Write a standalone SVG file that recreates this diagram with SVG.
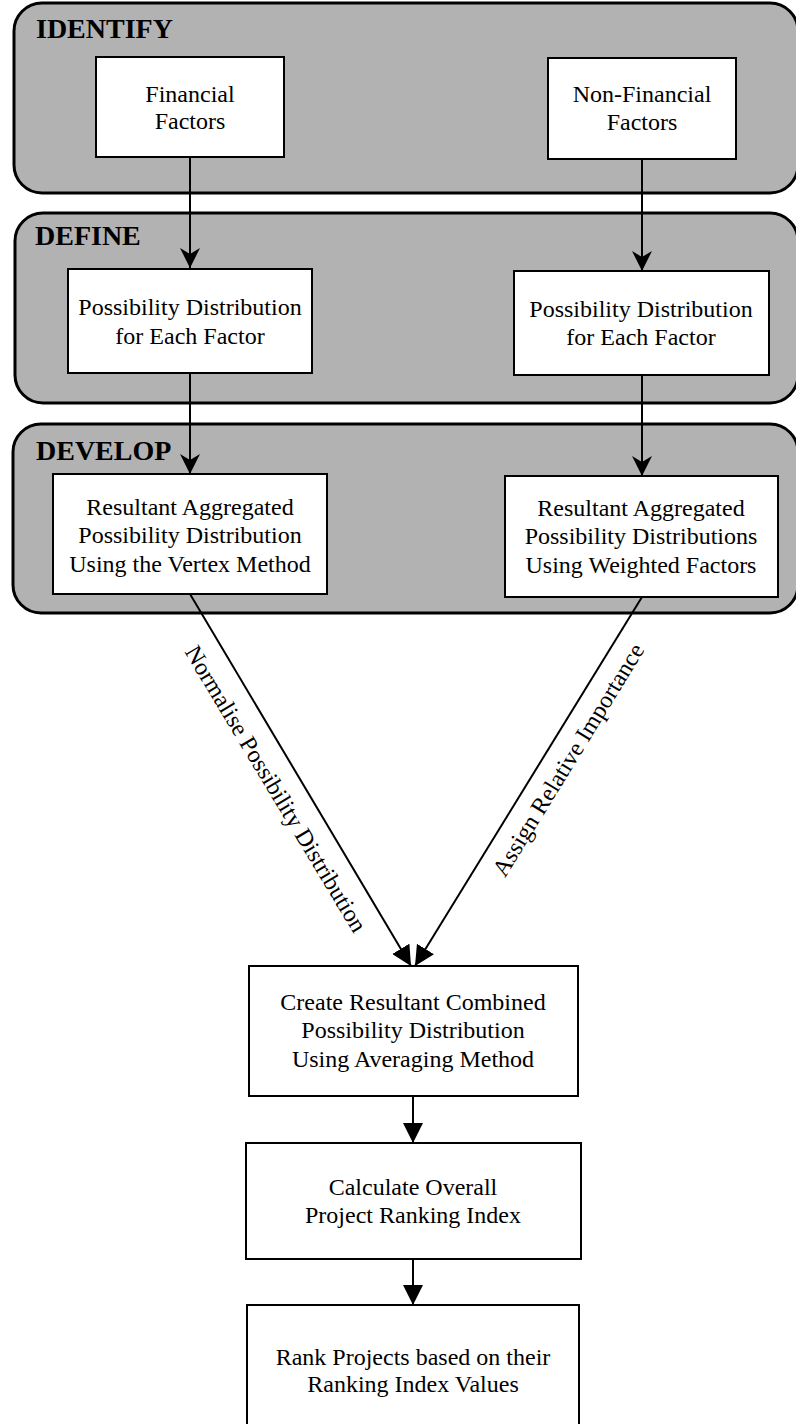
<svg xmlns="http://www.w3.org/2000/svg" width="796" height="1424" viewBox="0 0 796 1424">
<style>
.panel{fill:#b2b2b2;stroke:#000;stroke-width:3}
.box{fill:#fff;stroke:#000;stroke-width:2}
.ph{font-family:"Liberation Serif","Times New Roman",serif;font-weight:bold;font-size:28px;fill:#000}
.t{font-family:"Liberation Serif","Times New Roman",serif;font-size:24px;fill:#000;text-anchor:middle}
.c{stroke:#000;stroke-width:2;fill:none}
.n{marker-end:url(#notch)}
.a{marker-end:url(#tri)}
</style>
<defs>
<marker id="notch" markerUnits="userSpaceOnUse" viewBox="0 0 20 20" refX="20" refY="10" markerWidth="20" markerHeight="20" orient="auto">
<path d="M0,0 L20,10 L0,20 L6,10 Z" fill="#000"/>
</marker>
<marker id="tri" markerUnits="userSpaceOnUse" viewBox="0 0 20 20" refX="20" refY="10" markerWidth="20" markerHeight="20" orient="auto">
<path d="M0,0 L20,10 L0,20 Z" fill="#000"/>
</marker>
</defs>
<g id="panel-identify">
<rect class="panel" x="14" y="3" width="784" height="190" rx="28" ry="28"/>
<text class="ph" x="36" y="38">IDENTIFY</text>
</g>
<g id="panel-define">
<rect class="panel" x="15" y="213" width="783" height="190" rx="28" ry="28"/>
<text class="ph" x="35" y="245">DEFINE</text>
</g>
<g id="panel-develop">
<rect class="panel" x="13" y="424" width="785" height="189" rx="28" ry="28"/>
<text class="ph" x="36" y="460">DEVELOP</text>
</g>
<g id="connectors">
<line class="c n" x1="190" y1="157" x2="190" y2="268"/>
<line class="c n" x1="642" y1="159" x2="642" y2="271"/>
<line class="c n" x1="190" y1="373" x2="190" y2="474"/>
<line class="c n" x1="642" y1="375" x2="642" y2="476"/>
<line class="c a" x1="190" y1="594" x2="411" y2="966"/>
<line class="c a" x1="642" y1="597" x2="415" y2="966"/>
<line class="c a" x1="413" y1="1096" x2="413" y2="1143"/>
<line class="c a" x1="413" y1="1259" x2="413" y2="1305"/>
<text class="t" transform="translate(269,793) rotate(59)">Normalise Possibility Distribution</text>
<text class="t" transform="translate(575,764) rotate(-58.5)">Assign Relative Importance</text>
</g>
<g id="financial-factors">
<rect class="box" x="96" y="57" width="188" height="100"/>
<text class="t" x="190" y="102">Financial</text>
<text class="t" x="190" y="129">Factors</text>
</g>
<g id="non-financial-factors">
<rect class="box" x="548" y="58" width="188" height="101"/>
<text class="t" x="642" y="102">Non-Financial</text>
<text class="t" x="642" y="130">Factors</text>
</g>
<g id="define-financial">
<rect class="box" x="68" y="269" width="244" height="104"/>
<text class="t" x="190" y="315">Possibility Distribution</text>
<text class="t" x="190" y="344">for Each Factor</text>
</g>
<g id="define-non-financial">
<rect class="box" x="514" y="271" width="255" height="104"/>
<text class="t" x="641" y="317">Possibility Distribution</text>
<text class="t" x="641" y="345">for Each Factor</text>
</g>
<g id="develop-financial">
<rect class="box" x="53" y="474" width="274" height="120"/>
<text class="t" x="190" y="515">Resultant Aggregated</text>
<text class="t" x="190" y="543">Possibility Distribution</text>
<text class="t" x="190" y="572">Using the Vertex Method</text>
</g>
<g id="develop-non-financial">
<rect class="box" x="505" y="476" width="273" height="121"/>
<text class="t" x="641" y="516">Resultant Aggregated</text>
<text class="t" x="641" y="544">Possibility Distributions</text>
<text class="t" x="641" y="573">Using Weighted Factors</text>
</g>
<g id="combined">
<rect class="box" x="249" y="966" width="329" height="130"/>
<text class="t" x="413" y="1010">Create Resultant Combined</text>
<text class="t" x="413" y="1038">Possibility Distribution</text>
<text class="t" x="413" y="1067">Using Averaging Method</text>
</g>
<g id="calculate">
<rect class="box" x="246" y="1143" width="335" height="116"/>
<text class="t" x="413" y="1195">Calculate Overall</text>
<text class="t" x="413" y="1223">Project Ranking Index</text>
</g>
<g id="rank">
<rect class="box" x="247" y="1305" width="332" height="140"/>
<text class="t" x="413" y="1365">Rank Projects based on their</text>
<text class="t" x="413" y="1392">Ranking Index Values</text>
</g>
</svg>
